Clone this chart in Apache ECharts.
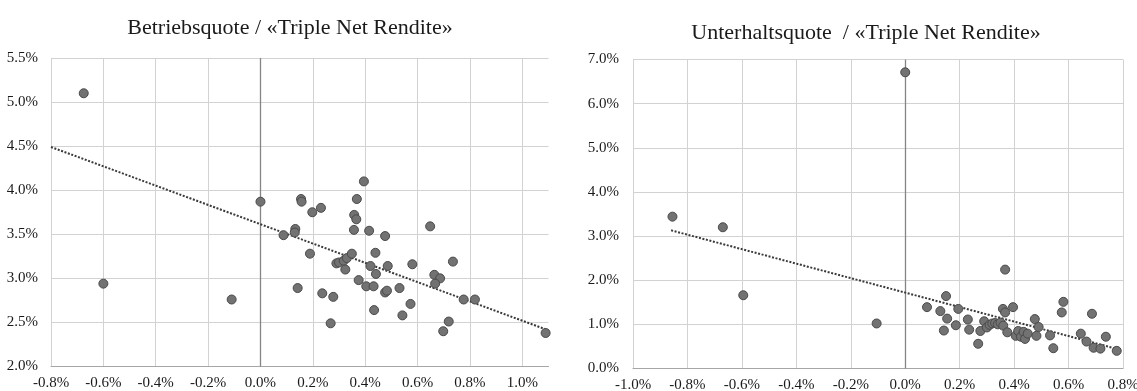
<!DOCTYPE html>
<html>
<head>
<meta charset="utf-8">
<script src="https://cdn.jsdelivr.net/npm/echarts@6/dist/echarts.min.js"></script>
<style>
html,body{margin:0;padding:0;background:#fff;}
#chart{width:1137px;height:391px;}
</style>
</head>
<body>
<div id="chart"></div>
<script>
// ---- Data ----
const titles = ['Betriebsquote / «Triple Net Rendite»', 'Unterhaltsquote  / «Triple Net Rendite»'];

// Left chart: x = Triple Net Rendite (%), y = Betriebsquote (%)
const leftX = [-0.675, -0.600, -0.110, 0.000, 0.088, 0.133, 0.131, 0.142, 0.155, 0.157,
  0.189, 0.198, 0.231, 0.236, 0.268, 0.278, 0.290, 0.300, 0.318, 0.330,
  0.349, 0.324, 0.357, 0.358, 0.366, 0.368, 0.375, 0.395, 0.404, 0.415,
  0.420, 0.432, 0.434, 0.439, 0.441, 0.476, 0.476, 0.483, 0.486, 0.531,
  0.542, 0.573, 0.580, 0.648, 0.664, 0.686, 0.667, 0.698, 0.719, 0.735,
  0.776, 0.819, 1.089];
const leftY = [5.10, 2.94, 2.76, 3.87, 3.49, 3.56, 3.52, 2.89, 3.90, 3.87,
  3.28, 3.75, 3.80, 2.83, 2.49, 2.79, 3.17, 3.18, 3.20, 3.23,
  3.28, 3.10, 3.55, 3.72, 3.67, 3.90, 2.98, 4.10, 2.91, 3.54,
  3.14, 2.91, 2.64, 3.29, 3.05, 3.48, 2.84, 2.86, 3.14, 2.89,
  2.58, 2.71, 3.16, 3.59, 3.04, 3.00, 2.94, 2.40, 2.51, 3.19,
  2.76, 2.76, 2.38];
const leftTrendX = [-0.8, 1.1];
const leftTrendY = [4.49, 2.41];

// Right chart: x = Triple Net Rendite (%), y = Unterhaltsquote (%)
const rightX = [-0.855, -0.670, -0.595, -0.105, 0.000, 0.080, 0.129, 0.150, 0.154, 0.142,
  0.186, 0.195, 0.230, 0.235, 0.268, 0.276, 0.290, 0.300, 0.310, 0.320,
  0.330, 0.340, 0.350, 0.360, 0.359, 0.367, 0.367, 0.375, 0.396, 0.406,
  0.415, 0.425, 0.435, 0.440, 0.450, 0.476, 0.490, 0.482, 0.532, 0.544,
  0.575, 0.581, 0.645, 0.666, 0.686, 0.692, 0.717, 0.737, 0.777];
const rightY = [3.44, 3.20, 1.66, 1.02, 6.71, 1.39, 1.30, 1.64, 1.13, 0.86,
  0.98, 1.35, 1.11, 0.88, 0.56, 0.85, 1.07, 0.93, 0.99, 1.02,
  1.03, 1.00, 1.04, 0.97, 1.35, 1.27, 2.24, 0.82, 1.39, 0.74,
  0.85, 0.72, 0.83, 0.67, 0.79, 1.12, 0.94, 0.74, 0.75, 0.46,
  1.27, 1.51, 0.79, 0.61, 1.24, 0.47, 0.45, 0.72, 0.40];
const rightTrendX = [-0.86, 0.78];
const rightTrendY = [3.13, 0.44];

// Axis ranges
const leftXRange = [-0.8, 1.1, 0.2];
const leftYRange = [2.0, 5.5, 0.5];
const rightXRange = [-1.0, 0.8, 0.2];
const rightYRange = [0.0, 7.0, 1.0];

// ---- Chart ----
const FONT = '"Liberation Serif", "Times New Roman", serif';
const pct = v => { if (Math.abs(v) < 1e-9) v = 0; return v.toFixed(1) + '%'; };
const zip = (a, b) => a.map((v, i) => [v, b[i]]);

function xAxisFor(idx, r, hideMax) {
  return {
    type: 'value', gridIndex: idx, min: r[0], max: r[1], interval: r[2],
    axisLine: { show: true, onZero: false, lineStyle: { color: '#a6a6a6', width: 1 } },
    axisTick: { show: false },
    splitLine: { show: true, showMaxLine: !hideMax, lineStyle: { color: '#d2d2d2', width: 1 } },
    axisLabel: { formatter: pct, color: '#1a1a1a', fontFamily: FONT, fontSize: 15, margin: 9,
      showMaxLabel: !hideMax }
  };
}
function yAxisFor(idx, r, margin) {
  return {
    type: 'value', gridIndex: idx, min: r[0], max: r[1], interval: r[2],
    axisLine: { show: false }, axisTick: { show: false },
    splitLine: { show: true, lineStyle: { color: '#d2d2d2', width: 1 } },
    axisLabel: { formatter: pct, color: '#1a1a1a', fontFamily: FONT, fontSize: 15, margin: margin }
  };
}
function scatter(idx, xs, ys) {
  return {
    type: 'scatter', xAxisIndex: idx, yAxisIndex: idx, z: 4,
    symbol: 'circle', symbolSize: 9,
    itemStyle: { color: '#727272', borderColor: '#4a4a4a', borderWidth: 1, opacity: 1 },
    emphasis: { disabled: true },
    data: zip(xs, ys)
  };
}
function trend(idx, xs, ys) {
  return {
    type: 'line', xAxisIndex: idx, yAxisIndex: idx, z: 3,
    showSymbol: false, symbol: 'none', animation: false,
    lineStyle: { color: '#3a3a3a', width: 2, type: [2, 1.6] },
    data: zip(xs, ys),
    markLine: {
      silent: true, symbol: 'none', z: 1, animation: false,
      label: { show: false },
      lineStyle: { color: '#858585', type: 'solid', width: 1.3 },
      data: [{ xAxis: 0 }]
    }
  };
}

const chart = echarts.init(document.getElementById('chart'), null, { renderer: 'canvas' });
chart.setOption({
  animation: false,
  backgroundColor: '#ffffff',
  graphic: [
    { type: 'text', x: 290, y: 28.5, style: { text: titles[0], font: '22px ' + FONT, fill: '#1a1a1a', textAlign: 'center', textVerticalAlign: 'middle' } },
    { type: 'text', x: 866, y: 33, style: { text: titles[1], font: '22px ' + FONT, fill: '#1a1a1a', textAlign: 'center', textVerticalAlign: 'middle' } }
  ],
  grid: [
    { left: 51, top: 58, width: 497.5, height: 308.5, containLabel: false, outerBoundsMode: 'none' },
    { left: 633, top: 59.5, width: 490, height: 309, containLabel: false, outerBoundsMode: 'none' }
  ],
  xAxis: [xAxisFor(0, leftXRange, true), xAxisFor(1, rightXRange, false)],
  yAxis: [yAxisFor(0, leftYRange, 13), yAxisFor(1, rightYRange, 14)],
  series: [
    trend(0, leftTrendX, leftTrendY),
    scatter(0, leftX, leftY),
    trend(1, rightTrendX, rightTrendY),
    scatter(1, rightX, rightY)
  ]
});
</script>
</body>
</html>
